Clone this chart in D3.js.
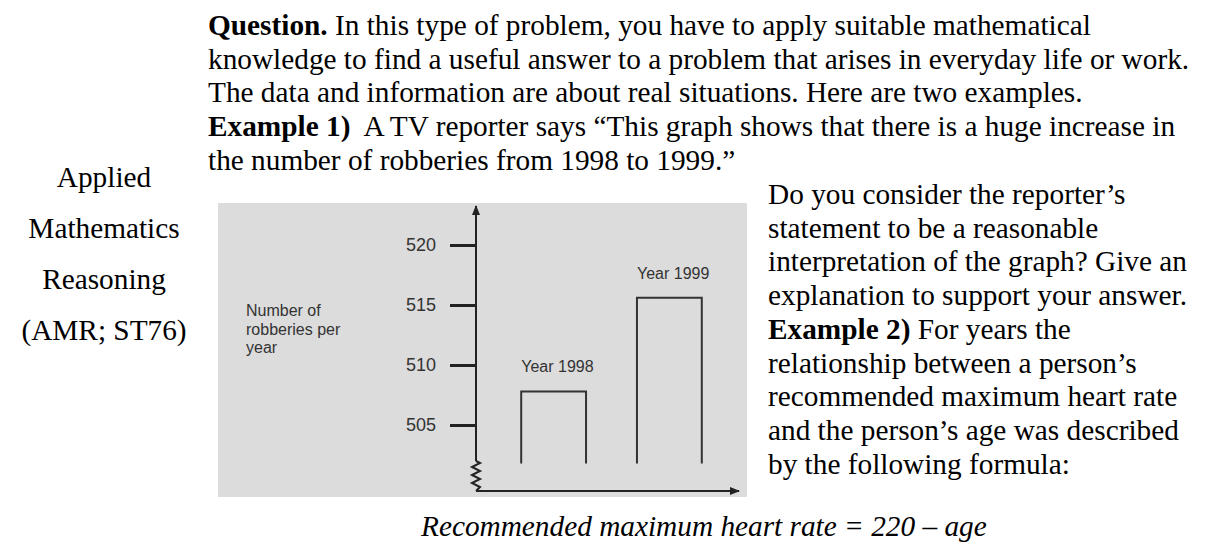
<!DOCTYPE html>
<html>
<head>
<meta charset="utf-8">
<script src="https://cdn.jsdelivr.net/npm/d3@7"></script>
<style>
  body { margin: 0; background: #fff; }
  svg { display: block; }
  .serif { font-family: "Liberation Serif", "Times New Roman", serif; font-size: 29.3px; fill: #000; }
  .sans { font-family: "Liberation Sans", Arial, sans-serif; fill: #333; }
</style>
</head>
<body>
<svg id="page" width="1206" height="544"></svg>
<script>
// chart data
var years = ["Year 1998", "Year 1999"];
var robberies = [507.8, 515.6];
var yTicks = [505, 510, 515, 520];
var barBase = 501.8;

// page text
var topLines = [
  [["Question.", true], [" In this type of problem, you have to apply suitable mathematical", false]],
  [["knowledge to find a useful answer to a problem that arises in everyday life or work.", false]],
  [["The data and information are about real situations. Here are two examples.", false]],
  [["Example 1)", true], ["  A TV reporter says \u201cThis graph shows that there is a huge increase in", false]],
  [["the number of robberies from 1998 to 1999.\u201d", false]]
];
var sideLines = ["Applied", "Mathematics", "Reasoning", "(AMR; ST76)"];
var rightLines = [
  [["Do you consider the reporter\u2019s", false]],
  [["statement to be a reasonable", false]],
  [["interpretation of the graph? Give an", false]],
  [["explanation to support your answer.", false]],
  [["Example 2)", true], [" For years the", false]],
  [["relationship between a person\u2019s", false]],
  [["recommended maximum heart rate", false]],
  [["and the person\u2019s age was described", false]],
  [["by the following formula:", false]]
];
var formula = "Recommended maximum heart rate = 220 \u2013 age";
var yLabel = ["Number of", "robberies per", "year"];

var svg = d3.select("#page");
var lineH = 33.7;

function writeLines(lines, x, y0) {
  lines.forEach(function(parts, i) {
    var t = svg.append("text").attr("class", "serif")
      .attr("x", x).attr("y", y0 + i * lineH)
      .attr("xml:space", "preserve");
    parts.forEach(function(p) {
      t.append("tspan").text(p[0]).attr("font-weight", p[1] ? "bold" : "normal");
    });
  });
}

writeLines(topLines, 208, 35);
writeLines(rightLines, 768, 204);

svg.selectAll(".side").data(sideLines).enter()
  .append("text")
  .attr("class", "serif side")
  .attr("x", 104)
  .attr("y", function(d, i) { return 187 + i * 51; })
  .attr("text-anchor", "middle")
  .text(function(d) { return d; });

svg.append("text").attr("class", "serif")
  .attr("x", 421).attr("y", 536)
  .attr("font-style", "italic")
  .text(formula);

// ---- the robbery chart ----
svg.append("rect")
  .attr("x", 218).attr("y", 203)
  .attr("width", 529).attr("height", 294)
  .attr("fill", "#dcdcdc");

var y = d3.scaleLinear().domain([505, 520]).range([425, 245]);
var x = d3.scaleBand().domain(years).range([505, 718])
  .paddingInner(0.44).paddingOuter(0.14);

var axisX = 476, axisY = 491;

svg.append("defs").append("marker")
  .attr("id", "arrow")
  .attr("viewBox", "0 0 10 10")
  .attr("refX", 9).attr("refY", 5)
  .attr("markerWidth", 5).attr("markerHeight", 5)
  .attr("orient", "auto")
  .append("path").attr("d", "M0,1 L10,5 L0,9 Z").attr("fill", "#222");

var yAxis = svg.append("g")
  .attr("transform", "translate(" + axisX + ",0)")
  .call(d3.axisLeft(y).tickValues(yTicks).tickSize(26).tickPadding(14));
yAxis.select(".domain").remove();
yAxis.selectAll(".tick line").attr("stroke", "#222").attr("stroke-width", 3);
yAxis.selectAll(".tick text")
  .attr("font-family", "Liberation Sans, Arial, sans-serif")
  .attr("font-size", 18).attr("fill", "#333");

// vertical axis with a break (zigzag) near the bottom
svg.append("line")
  .attr("x1", axisX).attr("x2", axisX)
  .attr("y1", 461).attr("y2", 206)
  .attr("stroke", "#222").attr("stroke-width", 2)
  .attr("marker-end", "url(#arrow)");

var zig = [[axisX, 461]];
for (var k = 0; k < 7; k++) {
  zig.push([axisX + (k % 2 == 0 ? 4 : -4), 463 + k * 4]);
}
zig.push([axisX, axisY]);
svg.append("path")
  .attr("d", d3.line()(zig))
  .attr("fill", "none").attr("stroke", "#222").attr("stroke-width", 2);

svg.append("line")
  .attr("x1", axisX).attr("x2", 739)
  .attr("y1", axisY).attr("y2", axisY)
  .attr("stroke", "#222").attr("stroke-width", 2)
  .attr("marker-end", "url(#arrow)");

// bars drawn as open outlines
svg.selectAll(".bar").data(robberies).enter()
  .append("path")
  .attr("class", "bar")
  .attr("d", function(d, i) {
    var x0 = x(years[i]), x1 = x0 + x.bandwidth();
    return "M" + x0 + "," + y(barBase) + "L" + x0 + "," + y(d) +
      "L" + x1 + "," + y(d) + "L" + x1 + "," + y(barBase);
  })
  .attr("fill", "none").attr("stroke", "#333").attr("stroke-width", 2);

svg.selectAll(".yr").data(robberies).enter()
  .append("text")
  .attr("class", "sans yr")
  .attr("font-size", 16)
  .attr("x", function(d, i) { return x(years[i]); })
  .attr("y", function(d) { return y(d) - 19; })
  .text(function(d, i) { return years[i]; });

svg.append("text").attr("class", "sans")
  .attr("font-size", 16)
  .selectAll("tspan").data(yLabel).enter()
  .append("tspan")
  .attr("x", 246)
  .attr("y", function(d, i) { return 316 + i * 18.5; })
  .text(function(d) { return d; });
</script>
</body>
</html>
